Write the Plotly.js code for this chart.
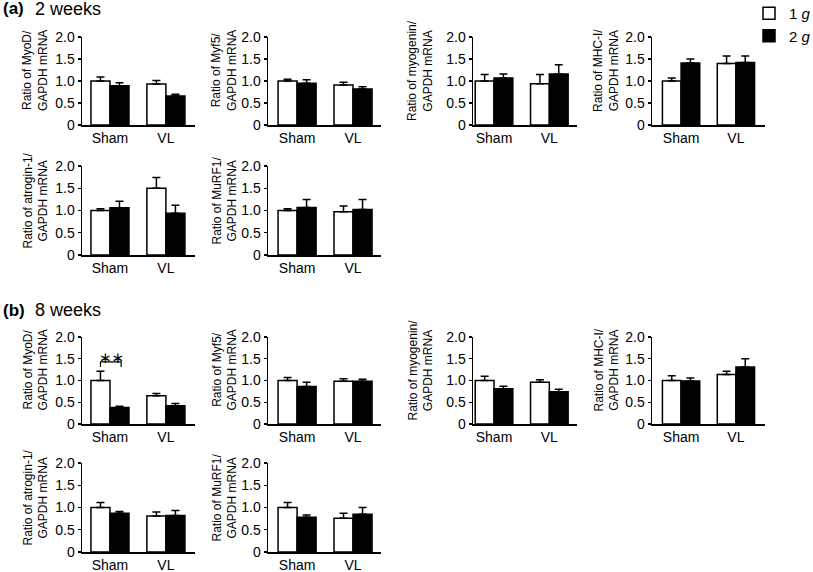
<!DOCTYPE html>
<html>
<head>
<meta charset="utf-8">
<script src="https://cdn.plot.ly/plotly-3.0.1.min.js"></script>
<style>
  html, body { margin: 0; padding: 0; background: #fff; }
  #chart { width: 813px; height: 572px; }
</style>
</head>
<body>
<div id="chart"></div>
<script>
// qPCR ratios. Each gene has [Sham, VL]
var groups = ['Sham', 'VL'];
var genes = ['MyoD', 'Myf5', 'myogenin', 'MHC-I', 'atrogin-1', 'MuRF1'];
var sections = ['2 weeks', '8 weeks'];
var seriesNames = ['1 <i>g</i>', '2 <i>g</i>'];

// (a) 2 weeks
var wk2_1g = [[1.00, 0.93], [1.00, 0.91], [1.00, 0.94], [1.00, 1.40], [1.00, 1.50], [1.00, 0.97]];
var wk2_1g_err = [[0.09, 0.08], [0.04, 0.06], [0.15, 0.21], [0.07, 0.17], [0.04, 0.24], [0.04, 0.13]];
var wk2_2g = [[0.89, 0.66], [0.95, 0.82], [1.07, 1.16], [1.41, 1.42], [1.06, 0.94], [1.07, 1.02]];
var wk2_2g_err = [[0.07, 0.04], [0.08, 0.05], [0.09, 0.21], [0.09, 0.15], [0.15, 0.18], [0.18, 0.23]];

// (b) 8 weeks
var wk8_1g = [[1.00, 0.65], [1.00, 0.98], [1.00, 0.96], [1.00, 1.14], [1.00, 0.81], [1.00, 0.76]];
var wk8_1g_err = [[0.21, 0.05], [0.07, 0.06], [0.10, 0.06], [0.11, 0.07], [0.11, 0.09], [0.11, 0.11]];
var wk8_2g = [[0.38, 0.42], [0.86, 0.98], [0.81, 0.74], [0.99, 1.31], [0.87, 0.82], [0.78, 0.85]];
var wk8_2g_err = [[0.03, 0.05], [0.10, 0.05], [0.06, 0.06], [0.07, 0.19], [0.04, 0.11], [0.05, 0.15]];

var yTickVals = [0, 0.5, 1, 1.5, 2];
var yTickText = ['0', '0.5', '1.0', '1.5', '2.0'];

// layout in pixels
var W = 813, H = 572;
function px(x) { return x / W; }
function py(y) { return 1 - y / H; }

var rowsPx = [[37, 125], [166, 255], [337, 424], [463, 552]];
var colsPx = [[82, 195], [268, 381], [473, 577], [652, 765]];
var colRange = [[-0.5, 1.52], [-0.52, 1.5], [-0.38, 1.5], [-0.53, 1.53]];
var titleX = [35, 224, 420, 606];

var FONT = 'Liberation Sans, Arial, sans-serif';

var data = [];
var layout = {
  width: W, height: H,
  margin: {l: 0, r: 0, t: 0, b: 0, autoexpand: false},
  paper_bgcolor: '#fff', plot_bgcolor: '#fff',
  barmode: 'group', bargap: 0.32, bargroupgap: 0,
  font: {family: FONT, color: '#000'},
  showlegend: true,
  legend: {
    x: px(749), y: py(-3), xanchor: 'left', yanchor: 'top',
    font: {size: 15, family: FONT}, bgcolor: 'rgba(0,0,0,0)',
    tracegroupgap: 0, itemclick: false
  },
  annotations: [],
  shapes: []
};

var means = [[wk2_1g, wk2_2g], [wk8_1g, wk8_2g]];
var errs = [[wk2_1g_err, wk2_2g_err], [wk8_1g_err, wk8_2g_err]];

var n = 0;
for (var s = 0; s < 2; s++) {
  for (var g = 0; g < genes.length; g++) {
    n++;
    var row = s * 2 + (g < 4 ? 0 : 1);
    var col = g % 4;
    var xa = 'x' + (n === 1 ? '' : n);
    var ya = 'y' + (n === 1 ? '' : n);

    for (var k = 0; k < 2; k++) {
      data.push({
        type: 'bar',
        x: groups,
        y: means[s][k][g],
        name: seriesNames[k],
        legendgroup: 'g' + k,
        showlegend: n === 1,
        xaxis: xa, yaxis: ya,
        marker: {color: k === 0 ? '#fff' : '#000', line: {color: '#000', width: 1.5}},
        error_y: {
          type: 'data', symmetric: false,
          array: errs[s][k][g], arrayminus: [0, 0],
          color: '#000', thickness: 1.5, width: 4
        },
        hoverinfo: 'y'
      });
    }

    layout['xaxis' + (n === 1 ? '' : n)] = {
      domain: [px(colsPx[col][0]), px(colsPx[col][1])],
      anchor: ya, type: 'category', range: colRange[col],
      showline: true, linecolor: '#000', linewidth: 1.5,
      ticks: '', showgrid: false, zeroline: false,
      tickfont: {size: 14}, fixedrange: true
    };
    layout['yaxis' + (n === 1 ? '' : n)] = {
      domain: [py(rowsPx[row][1]), py(rowsPx[row][0])],
      anchor: xa, range: [0, 2],
      tickvals: yTickVals, ticktext: yTickText,
      showline: true, linecolor: '#000', linewidth: 1.5,
      ticks: 'outside', ticklen: 3, tickwidth: 1.2, tickcolor: '#000',
      showgrid: false, zeroline: false,
      tickfont: {size: 14}, fixedrange: true
    };

    var midY = (rowsPx[row][0] + rowsPx[row][1]) / 2 - 10;
    layout.annotations.push({
      xref: 'paper', yref: 'paper',
      x: px(titleX[col]), y: py(midY),
      xanchor: 'center', yanchor: 'middle',
      text: 'Ratio of ' + genes[g] + '/<br>GAPDH mRNA',
      textangle: -90, showarrow: false,
      font: {size: 12, family: FONT}
    });
  }
}

// section headings
var headY = [9, 310];
for (var s2 = 0; s2 < 2; s2++) {
  layout.annotations.push({
    xref: 'paper', yref: 'paper', x: px(1), y: py(headY[s2]),
    xanchor: 'left', yanchor: 'middle', showarrow: false,
    text: '<b>(' + 'ab'[s2] + ')</b>', font: {size: 17, family: FONT}
  });
  layout.annotations.push({
    xref: 'paper', yref: 'paper', x: px(33), y: py(headY[s2]),
    xanchor: 'left', yanchor: 'middle', showarrow: false,
    text: sections[s2], font: {size: 18, family: FONT}
  });
}

// significance bracket, 8 weeks MyoD Sham
layout.shapes.push({
  type: 'path', xref: 'x7', yref: 'y7',
  path: 'M -0.17,1.31 L -0.17,1.43 L 0.2,1.43 L 0.2,1.31',
  line: {color: '#000', width: 1.2}
});
layout.annotations.push({
  xref: 'x7', yref: 'y7', x: 0.02, y: 1.43,
  xanchor: 'center', yanchor: 'bottom', showarrow: false,
  text: '\u2217\u2217', font: {size: 15, family: 'DejaVu Sans'}, yshift: -7
});

Plotly.newPlot('chart', data, layout, {staticPlot: true});
</script>
</body>
</html>
